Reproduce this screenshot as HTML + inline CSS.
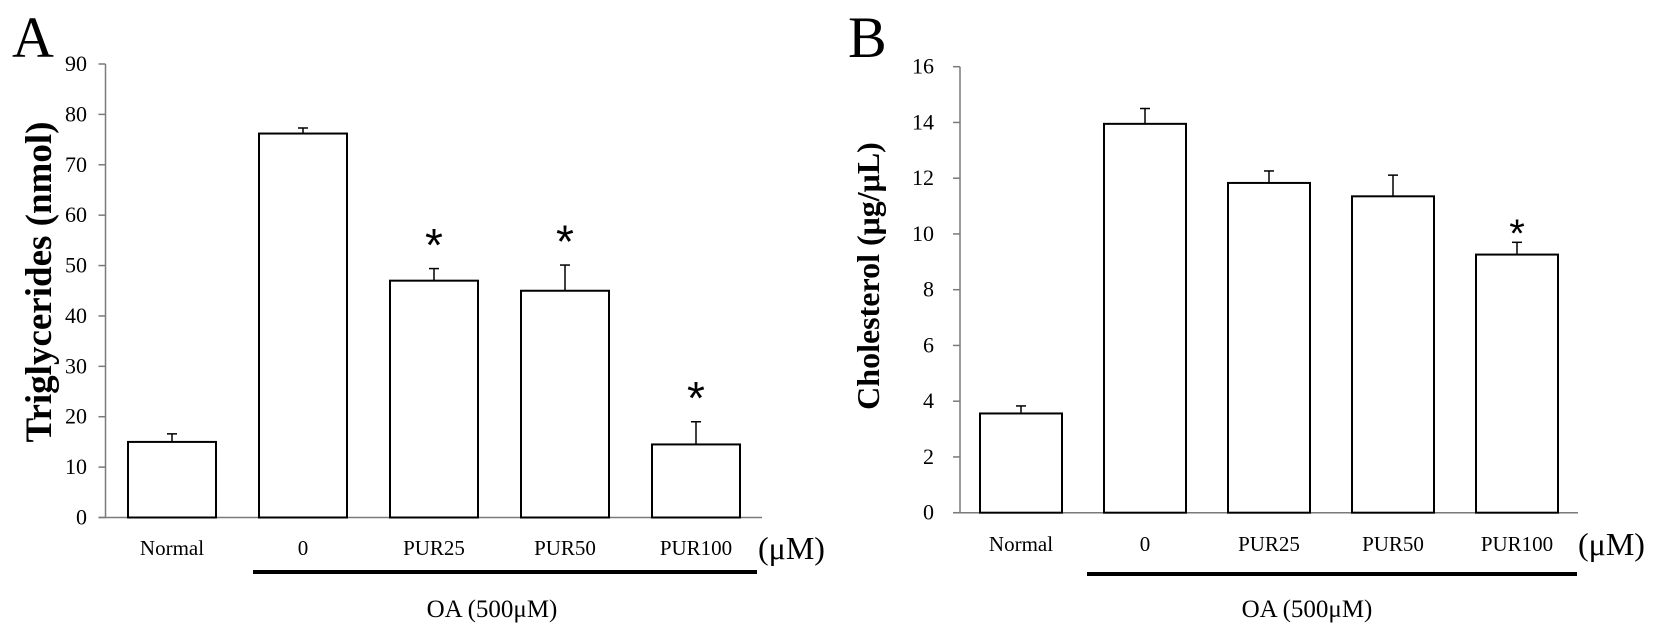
<!DOCTYPE html>
<html><head><meta charset="utf-8"><style>
html,body{margin:0;padding:0;background:#fff;}
svg{display:block;font-family:"Liberation Serif",serif;}
</style></head><body>
<svg id="fig" width="1654" height="636" viewBox="0 0 1654 636" xmlns="http://www.w3.org/2000/svg"></svg>
<script>
const categories = ["Normal","0","PUR25","PUR50","PUR100"];
const tgValues = [15.0, 76.2, 47.0, 45.0, 14.5];
const tgErrors = [1.6, 1.1, 2.4, 5.1, 4.5];
const tgSig = [false, false, true, true, true];
const tgTicks = [0,10,20,30,40,50,60,70,80,90];
const chValues = [3.56, 13.95, 11.83, 11.35, 9.26];
const chErrors = [0.27, 0.55, 0.43, 0.76, 0.44];
const chSig = [false, false, false, false, true];
const chTicks = [0,2,4,6,8,10,12,14,16];

const NS = "http://www.w3.org/2000/svg";
const svg = document.getElementById("fig");
function el(tag, attrs, parent){ const e=document.createElementNS(NS,tag); for(const k in attrs) e.setAttribute(k,attrs[k]); (parent||svg).appendChild(e); return e; }

function panel(cfg){
  const g = el("g", {});
  
  
  const y = v => cfg.y0 - (v - 0) / cfg.max * (cfg.y0 - cfg.yTop);
  const bx = i => cfg.bar0 + i * cfg.step;
  const L = el("text", {x:cfg.letterX, y:cfg.letterY, "font-size":cfg.letterSize}, g);
  L.textContent = cfg.letter;
  
  
  const ax = el("line", {x1:cfg.axisX, y1:cfg.yTop, x2:cfg.axisX, y2:cfg.y0, stroke:"#7a7a7a", "stroke-width":1.5}, g);
  
  
  const bl = el("line", {x1:cfg.axisX-7, y1:cfg.y0, x2:cfg.axisEnd, y2:cfg.y0, stroke:"#7a7a7a", "stroke-width":1.5}, g);
  
  
  cfg.ticks.forEach(t => {
    const tl = el("line", {x1:cfg.axisX-7, y1:y(t), x2:cfg.axisX, y2:y(t), stroke:"#7a7a7a", "stroke-width":1.5}, g);
    
    
    const tx = el("text", {x:cfg.tickLabelX, y:y(t)+7, "font-size":22, "text-anchor":"end"}, g);
    tx.textContent = t;
    
    
  });
  const yt = el("text", {x:0, y:0, "font-size":cfg.titleSize, "font-weight":"bold", "text-anchor":"middle", transform:`translate(${cfg.titleX},${cfg.titleY}) rotate(-90)`}, g);
  yt.textContent = cfg.title;
  
  
  cfg.values.forEach((v,i) => {
    const x = bx(i), cx = x + cfg.bw/2;
    const et = y(v + cfg.errors[i]);
    const ev = el("line", {x1:cx, y1:y(v), x2:cx, y2:et, stroke:"#000", "stroke-width":1.5}, g);
    
    
    const ec = el("line", {x1:cx-5, y1:et, x2:cx+5, y2:et, stroke:"#000", "stroke-width":1.5}, g);
    
    
    const r = el("rect", {x:x, y:y(v), width:cfg.bw, height:cfg.y0 - y(v), fill:"#fff", stroke:"#000", "stroke-width":2}, g);
    
    
    const lb = el("text", {x:cx, y:cfg.labelY, "font-size":21, "text-anchor":"middle"}, g);
    lb.textContent = categories[i];
    
    
    if (cfg.sig[i]) {
      const sc = et - cfg.starOff;
      const s = el("text", {x:cx, y:sc + 0.57*cfg.starSize, "font-size":cfg.starSize, "text-anchor":"middle", "font-family":"Liberation Sans, sans-serif"}, g);
      s.textContent = "*";
      
      
    }
  });
  const um = el("text", {x:cfg.umX, y:cfg.labelY+4, "font-size":32}, g);
  um.textContent = "(\u03bcM)";
  
  
  const ul = el("line", {x1:cfg.ulX1, y1:cfg.ulY, x2:cfg.ulX2, y2:cfg.ulY, stroke:"#000", "stroke-width":4}, g);
  
  
  const oa = el("text", {x:cfg.oaX, y:cfg.oaY, "font-size":25, "text-anchor":"middle"}, g);
  oa.textContent = "OA (500\u03bcM)";
  
  
}

panel({name:"panel-a-triglycerides", letter:"A", letterX:12, letterY:57, letterSize:58,
  axisX:105.5, axisEnd:762, yTop:64, y0:517.5, max:90, ticks:tgTicks, tickLabelX:87,
  title:"Triglycerides (nmol)", titleX:51, titleY:282, titleSize:37,
  values:tgValues, errors:tgErrors, sig:tgSig, bar0:128, step:131, bw:88,
  labelY:555, starOff:34, starSize:46, umX:758, ulX1:253, ulX2:757, ulY:572, oaX:492, oaY:617});
panel({name:"panel-b-cholesterol", letter:"B", letterX:848, letterY:57, letterSize:58,
  axisX:960, axisEnd:1578, yTop:66.7, y0:512.7, max:16, ticks:chTicks, tickLabelX:934,
  title:"Cholesterol (\u03bcg/\u03bcL)", titleX:879, titleY:276, titleSize:32,
  values:chValues, errors:chErrors, sig:chSig, bar0:980, step:124, bw:82,
  labelY:551, starOff:18, starSize:40, umX:1578, ulX1:1087, ulX2:1577, ulY:574, oaX:1307, oaY:617});
</script>
</body></html>
